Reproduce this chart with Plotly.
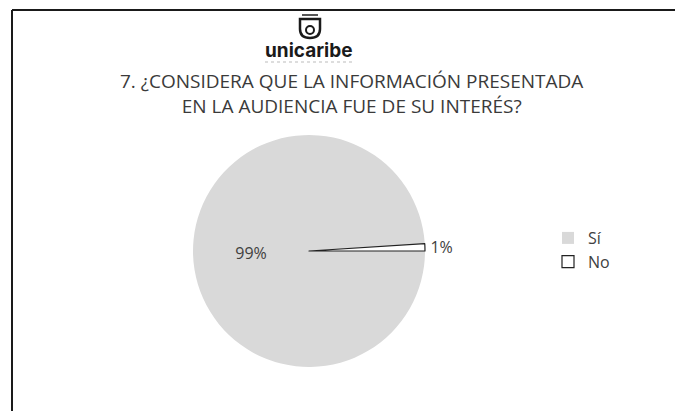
import plotly.graph_objects as go

labels = ["Sí", "No"]
values = [99, 1]
slice_colors = ["#d9d9d9", "#ffffff"]
title_lines = ["7. ¿CONSIDERA QUE LA INFORMACIÓN PRESENTADA", "EN LA AUDIENCIA FUE DE SU INTERÉS?"]
logo_text = "unicaribe"

W, H = 675, 411

def px(x):
    return x / W

def py(y):
    return 1 - y / H

fig = go.Figure()
fig.add_trace(go.Pie(
    labels=labels,
    values=values,
    sort=False,
    direction="clockwise",
    rotation=90,
    marker=dict(colors=slice_colors, line=dict(color=["#d9d9d9", "#222222"], width=[0, 1.2])),
    texttemplate="%{percent:.0%}",
    textposition=["inside", "outside"],
    insidetextorientation="horizontal",
    textfont=dict(family="Open Sans", size=16, color="#404040"),
    domain=dict(x=[px(100), px(518)], y=[py(367), py(135)]),
    hoverinfo="label+percent",
))

fig.update_layout(
    width=W, height=H,
    margin=dict(l=0, r=0, t=0, b=0),
    paper_bgcolor="white",
    plot_bgcolor="white",
    showlegend=True,
    legend=dict(
        x=px(548), y=py(250), xanchor="left", yanchor="middle",
        font=dict(family="Open Sans", size=16, color="#404040"),
        bgcolor="rgba(0,0,0,0)",
    ),
    annotations=[
        dict(text="<br>".join(title_lines), x=px(352), y=py(94), xref="paper", yref="paper",
             xanchor="center", yanchor="middle", showarrow=False, align="center",
             font=dict(family="Open Sans", size=19, color="#3a3a3a")),
        dict(text="<b>" + logo_text + "</b>", x=px(309), y=py(51), xref="paper", yref="paper",
             xanchor="center", yanchor="middle", showarrow=False,
             font=dict(family="Inter", size=19, color="#1a1a1a")),
    ],
    shapes=[
        # frame (top and left edges)
        dict(type="line", xref="paper", yref="paper", x0=px(12), x1=px(675), y0=py(10), y1=py(10),
             line=dict(color="#1a1a1a", width=2)),
        dict(type="line", xref="paper", yref="paper", x0=px(12), x1=px(12), y0=py(10), y1=py(411),
             line=dict(color="#1a1a1a", width=2)),
        # shield logo
        dict(type="path", xref="paper", yref="paper",
             path=f"M {px(300)} {py(19)} L {px(320)} {py(19)} L {px(320)} {py(29)} Q {px(320)} {py(38)} {px(310)} {py(38)} Q {px(300)} {py(38)} {px(300)} {py(29)} Z",
             line=dict(color="#1a1a1a", width=2.5), fillcolor="white"),
        dict(type="circle", xref="paper", yref="paper", x0=px(306), x1=px(314), y0=py(34), y1=py(26),
             line=dict(color="#1a1a1a", width=2)),
        dict(type="line", xref="paper", yref="paper", x0=px(302), x1=px(318), y0=py(15), y1=py(15),
             line=dict(color="#555555", width=2)),
        dict(type="line", xref="paper", yref="paper", x0=px(265), x1=px(355), y0=py(62), y1=py(62),
             line=dict(color="#bbbbbb", width=1, dash="dot")),
    ],
)

fig.write_html("out.html", config={"displayModeBar": False},
               post_script="document.body.style.margin='0';")
